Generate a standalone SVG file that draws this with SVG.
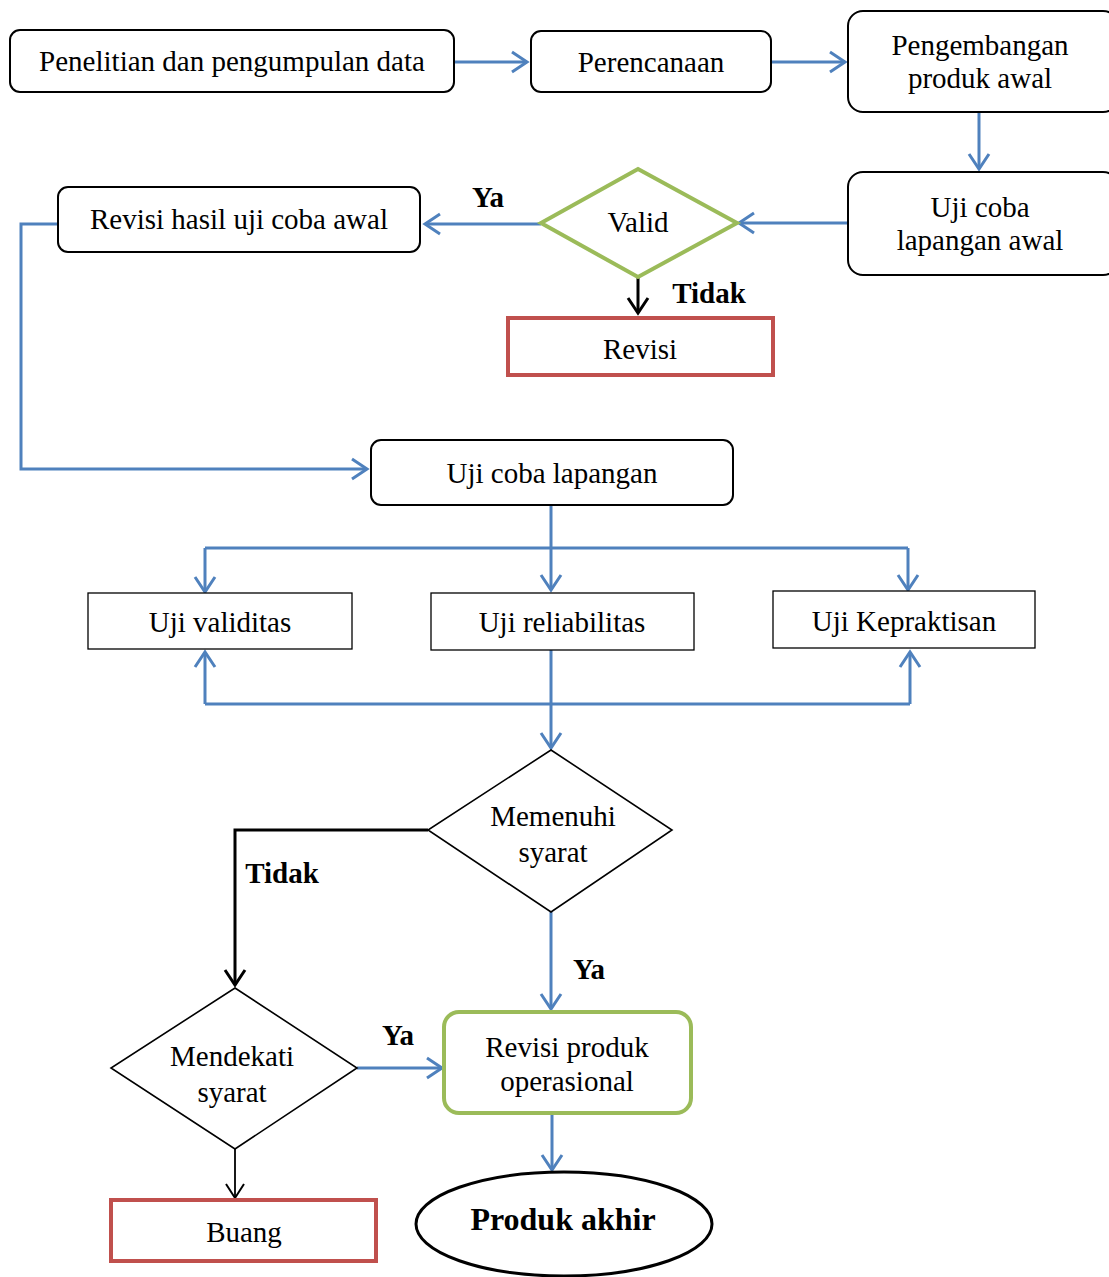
<svg xmlns="http://www.w3.org/2000/svg" width="1109" height="1277" viewBox="0 0 1109 1277">
  <style>
    text { font-family: "Liberation Serif", "Times New Roman", serif; fill: #000; text-anchor: middle; }
    .t { font-size: 29px; }
    .lbl { font-size: 29px; font-weight: bold; }
    .big { font-size: 32px; font-weight: bold; }
    .box { fill: #fff; stroke: #000; stroke-width: 2; }
    .sq { fill: #fff; stroke: #000; stroke-width: 1.3; }
    .red { fill: #fff; stroke: #C0504D; stroke-width: 4; }
    .grn { fill: #fff; stroke: #9BBB59; stroke-width: 4; }
    .dia { fill: #fff; stroke: #000; stroke-width: 1.6; }
    .blue { fill: none; stroke: #4F81BD; stroke-width: 3; }
    .blk { fill: none; stroke: #000; stroke-width: 3; }
    .blkthin { fill: none; stroke: #000; stroke-width: 1.8; }
  </style>
  <defs>
    <marker id="ab" viewBox="-18 -12 22 24" markerWidth="22" markerHeight="24" refX="0" refY="0" orient="auto" markerUnits="userSpaceOnUse">
      <path d="M-15,-10 L0,0 L-15,10" fill="none" stroke="#4F81BD" stroke-width="3"/>
    </marker>
    <marker id="ak" viewBox="-18 -12 22 24" markerWidth="22" markerHeight="24" refX="0" refY="0" orient="auto" markerUnits="userSpaceOnUse">
      <path d="M-15,-10 L0,0 L-15,10" fill="none" stroke="#000" stroke-width="3"/>
    </marker>
    <marker id="akt" viewBox="-18 -12 22 24" markerWidth="22" markerHeight="24" refX="0" refY="0" orient="auto" markerUnits="userSpaceOnUse">
      <path d="M-14,-9 L0,0 L-14,9" fill="none" stroke="#000" stroke-width="2"/>
    </marker>
  </defs>

  <!-- connectors -->
  <g id="connectors">
    <line class="blue" x1="454" y1="62" x2="527" y2="62" marker-end="url(#ab)"/>
    <line class="blue" x1="771" y1="62" x2="845" y2="62" marker-end="url(#ab)"/>
    <line class="blue" x1="979" y1="112" x2="979" y2="169" marker-end="url(#ab)"/>
    <line class="blue" x1="852" y1="223" x2="739" y2="223" marker-end="url(#ab)"/>
    <line class="blue" x1="541" y1="224" x2="425" y2="224" marker-end="url(#ab)"/>
    <polyline class="blue" points="58,224 21,224 21,469 367,469" marker-end="url(#ab)"/>
    <line class="blk" x1="638" y1="278" x2="638" y2="313" marker-end="url(#ak)"/>
    <line class="blue" x1="551" y1="505" x2="551" y2="590" marker-end="url(#ab)"/>
    <line class="blue" x1="205" y1="548" x2="908" y2="548"/>
    <line class="blue" x1="205" y1="548" x2="205" y2="592" marker-end="url(#ab)"/>
    <line class="blue" x1="908" y1="548" x2="908" y2="590" marker-end="url(#ab)"/>
    <line class="blue" x1="205" y1="704" x2="910" y2="704"/>
    <line class="blue" x1="205" y1="704" x2="205" y2="652" marker-end="url(#ab)"/>
    <line class="blue" x1="910" y1="704" x2="910" y2="652" marker-end="url(#ab)"/>
    <line class="blue" x1="551" y1="650" x2="551" y2="748" marker-end="url(#ab)"/>
    <polyline class="blk" points="428,830 235,830 235,985" marker-end="url(#ak)"/>
    <line class="blue" x1="551" y1="912" x2="551" y2="1009" marker-end="url(#ab)"/>
    <line class="blue" x1="357" y1="1068" x2="442" y2="1068" marker-end="url(#ab)"/>
    <line class="blue" x1="552" y1="1113" x2="552" y2="1170" marker-end="url(#ab)"/>
    <line class="blkthin" x1="235" y1="1149" x2="235" y2="1198" marker-end="url(#akt)"/>
    <text class="lbl" x="488" y="207">Ya</text>
    <text class="lbl" x="709" y="303">Tidak</text>
    <text class="lbl" x="282" y="883">Tidak</text>
    <text class="lbl" x="589" y="979">Ya</text>
    <text class="lbl" x="398" y="1045">Ya</text>
  </g>

  <g id="penelitian">
    <rect class="box" x="10" y="30" width="444" height="62" rx="10"/>
    <text class="t" x="232" y="71">Penelitian dan pengumpulan data</text>
  </g>
  <g id="perencanaan">
    <rect class="box" x="531" y="31" width="240" height="61" rx="10"/>
    <text class="t" x="651" y="72">Perencanaan</text>
  </g>
  <g id="pengembangan">
    <rect class="box" x="848" y="11" width="270" height="101" rx="15"/>
    <text class="t" x="980" y="55">Pengembangan</text>
    <text class="t" x="980" y="88">produk awal</text>
  </g>
  <g id="uji-coba-awal">
    <rect class="box" x="848" y="172" width="270" height="103" rx="15"/>
    <text class="t" x="980" y="217">Uji coba</text>
    <text class="t" x="980" y="250">lapangan awal</text>
  </g>
  <g id="valid">
    <polygon class="grn" points="638,169 737,223 638,277 541,223"/>
    <text class="t" x="638" y="232">Valid</text>
  </g>
  <g id="revisi-hasil">
    <rect class="box" x="58" y="187" width="362" height="65" rx="10"/>
    <text class="t" x="239" y="229">Revisi hasil uji coba awal</text>
  </g>
  <g id="revisi">
    <rect class="red" x="508" y="318" width="265" height="57"/>
    <text class="t" x="640" y="359">Revisi</text>
  </g>
  <g id="uji-coba-lapangan">
    <rect class="box" x="371" y="440" width="362" height="65" rx="10"/>
    <text class="t" x="552" y="483">Uji coba lapangan</text>
  </g>
  <g id="uji-validitas">
    <rect class="sq" x="88" y="593" width="264" height="56"/>
    <text class="t" x="220" y="632">Uji validitas</text>
  </g>
  <g id="uji-reliabilitas">
    <rect class="sq" x="431" y="593" width="263" height="57"/>
    <text class="t" x="562" y="632">Uji reliabilitas</text>
  </g>
  <g id="uji-kepraktisan">
    <rect class="sq" x="773" y="591" width="262" height="57"/>
    <text class="t" x="904" y="631">Uji Kepraktisan</text>
  </g>
  <g id="memenuhi">
    <polygon class="dia" points="551,750 672,830 551,912 428,830"/>
    <text class="t" x="553" y="826">Memenuhi</text>
    <text class="t" x="553" y="862">syarat</text>
  </g>
  <g id="mendekati">
    <polygon class="dia" points="235,988 357,1068 235,1149 111,1068"/>
    <text class="t" x="232" y="1066">Mendekati</text>
    <text class="t" x="232" y="1102">syarat</text>
  </g>
  <g id="revisi-produk">
    <rect class="grn" x="444" y="1012" width="247" height="101" rx="15"/>
    <text class="t" x="567" y="1057">Revisi produk</text>
    <text class="t" x="567" y="1091">operasional</text>
  </g>
  <g id="buang">
    <rect class="red" x="111" y="1200" width="265" height="61"/>
    <text class="t" x="244" y="1242">Buang</text>
  </g>
  <g id="produk-akhir">
    <ellipse cx="564" cy="1224" rx="148" ry="52" fill="#fff" stroke="#000" stroke-width="3"/>
    <text class="big" x="563" y="1230">Produk akhir</text>
  </g>
</svg>
